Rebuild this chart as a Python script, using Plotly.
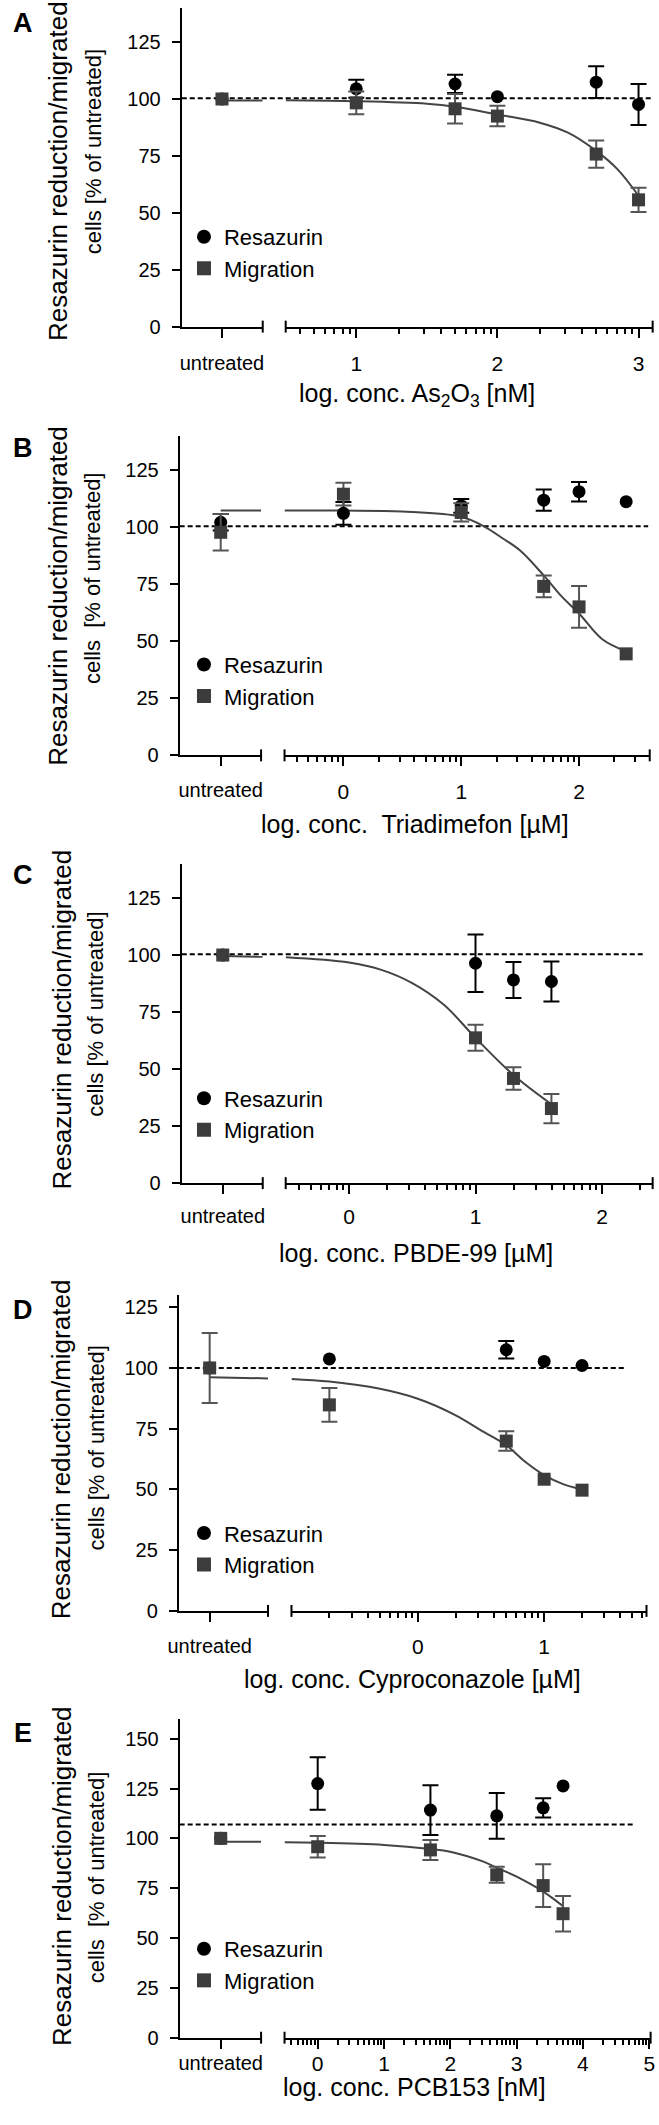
import math
import plotly.graph_objects as go

W, H = 659, 2125
FONT = "Liberation Sans, Arial, Helvetica, sans-serif"

# ---------------- data ----------------
panel_letters = ["A", "B", "C", "D", "E"]
x_titles = ["log. conc. As<sub>2</sub>O<sub>3</sub> [nM]",
            "log. conc.\u00a0 Triadimefon [µM]",
            "log. conc. PBDE-99 [µM]",
            "log. conc. Cyproconazole [µM]",
            "log. conc. PCB153 [nM]"]
y_title_line1 = "Resazurin reduction/migrated"
y_title_line2 = ["cells [% of untreated]", "cells\u00a0 [% of untreated]",
                 "cells [% of untreated]", "cells [% of untreated]",
                 "cells\u00a0 [% of untreated]"]
untreated_label = "untreated"
series_names = ["Resazurin", "Migration"]
y_ticks = [[0, 25, 50, 75, 100, 125]] * 4 + [[0, 25, 50, 75, 100, 125, 150]]
y_max = [140, 140, 140, 130, 160]
x_log_range = [[0.5, 3.1], [-0.5, 2.6], [-0.5, 2.4], [-1.0, 1.81], [-0.5, 5.02]]
reference_line = [100.3, 100.4, 100.3, 100.0, 107.0]

# untreated controls
res_untreated = [100, 102.2, 100, 100, 100]
res_untreated_err = [None, 3.6, None, None, None]
mig_untreated = [100, 97.8, 100, 100, 100]
mig_untreated_err = [None, 8.0, None, 14.4, None]

# A: As2O3
A_conc = [1, 1.7, 2, 2.7, 3]
A_res = [104.5, 106.6, 101.0, 107.4, 97.6]
A_res_err = [4.0, 4.0, None, 7.0, 9.0]
A_mig = [98.3, 95.7, 92.5, 75.8, 55.7]
A_mig_err = [5.0, 6.5, 4.5, 6.0, 5.3]
A_fit_left = [99.3, 99.3]
A_fit_x = [0.5, 1.0, 1.5, 1.7, 2.0, 2.3, 2.5, 2.7, 2.85, 3.0]
A_fit_y = [99.4, 99.0, 97.9, 96.6, 93.2, 89.6, 85.2, 77.2, 69.2, 57.5]

# B: Triadimefon
B_conc = [0, 1, 1.7, 2, 2.4]
B_res = [106.1, 109.4, 111.9, 115.6, 111.2]
B_res_err = [5.0, 3.0, 4.7, 4.3, None]
B_mig = [114.5, 106.5, 74.1, 65.1, 44.5]
B_mig_err = [5.0, 4.0, 4.8, 9.1, None]
B_fit_left = [107.3, 107.3]
B_fit_x = [-0.5, 0.0, 0.5, 1.0, 1.2, 1.35, 1.5, 1.7, 1.85, 2.0, 2.2, 2.4]
B_fit_y = [107.3, 107.3, 106.9, 104.6, 100.2, 95.2, 89.8, 78.9, 69.8, 62.2, 50.8, 45.6]

# C: PBDE-99
C_conc = [1, 1.3, 1.6]
C_res = [96.4, 89.1, 88.4]
C_res_err = [12.6, 7.9, 8.8]
C_mig = [63.7, 45.9, 32.7]
C_mig_err = [5.7, 4.9, 6.4]
C_fit_left = [99.6, 99.2]
C_fit_x = [-0.5, 0.0, 0.25, 0.5, 0.75, 1.0, 1.3, 1.6]
C_fit_y = [99.0, 96.7, 93.6, 87.7, 78.2, 63.7, 47.4, 34.6]

# D: Cyproconazole
D_conc = [-0.7, 0.7, 1.0, 1.3]
D_res = [103.7, 107.5, 102.7, 101.0]
D_res_err = [None, 3.6, None, None]
D_mig = [84.8, 69.9, 54.2, 49.7]
D_mig_err = [6.9, 4.0, None, None]
D_fit_left = [96.2, 95.7]
D_fit_x = [-1.0, -0.7, -0.3, 0.0, 0.3, 0.5, 0.7, 0.85, 1.0, 1.15, 1.3]
D_fit_y = [95.5, 94.4, 91.4, 87.3, 80.5, 74.3, 68.2, 61.4, 55.9, 52.2, 50.0]

# E: PCB153
E_conc = [0, 1.7, 2.7, 3.4, 3.7]
E_res = [127.5, 114.2, 111.3, 115.3, 126.3]
E_res_err = [13.2, 12.5, 11.5, 4.8, None]
E_mig = [95.8, 94.2, 81.7, 76.3, 62.2]
E_mig_err = [5.4, 5.0, 4.0, 10.7, 8.9]
E_fit_left = [98.3, 98.3]
E_fit_x = [-0.5, 0.0, 1.0, 1.7, 2.0, 2.5, 2.7, 3.0, 3.4, 3.7]
E_fit_y = [98.0, 97.8, 96.7, 94.7, 93.3, 88.3, 85.3, 80.8, 73.3, 66.0]

panels = [
    (A_conc, A_res, A_res_err, A_mig, A_mig_err, A_fit_left, A_fit_x, A_fit_y),
    (B_conc, B_res, B_res_err, B_mig, B_mig_err, B_fit_left, B_fit_x, B_fit_y),
    (C_conc, C_res, C_res_err, C_mig, C_mig_err, C_fit_left, C_fit_x, C_fit_y),
    (D_conc, D_res, D_res_err, D_mig, D_mig_err, D_fit_left, D_fit_x, D_fit_y),
    (E_conc, E_res, E_res_err, E_mig, E_mig_err, E_fit_left, E_fit_x, E_fit_y),
]

# ---------------- layout geometry (pixels) ----------------
geom = [
    dict(yx=174.7, lend=257.6, ux=215.9, rs=281.1, re=656.6, y0=328.3, yt=8.0,
         dash_end=656, letter_y=23, yt1=(48, 172), yt2=(84, 153), xt=(415, 397),
         xstand=8, leg_y=237),
    dict(yx=172.6, lend=255.9, ux=214.6, rs=279.9, re=653.6, y0=759.3, yt=438.3,
         dash_end=652, letter_y=450, yt1=(48, 599), yt2=(84, 581), xt=(413, 828),
         xstand=7, leg_y=667),
    dict(yx=174.7, lend=257.6, ux=216.7, rs=281.1, re=656.6, y0=1189.3, yt=868.3,
         dash_end=648, letter_y=880, yt1=(52, 1025), yt2=(87, 1020), xt=(414, 1260),
         xstand=5, leg_y=1103),
    dict(yx=171.7, lend=263.0, ux=203.3, rs=287.0, re=650.3, y0=1619.3, yt=1301.8,
         dash_end=629, letter_y=1317, yt1=(52, 1457), yt2=(87, 1456), xt=(411, 1688),
         xstand=7, leg_y=1540),
    dict(yx=172.6, lend=255.9, ux=214.6, rs=279.9, re=654.5, y0=2048.3, yt=1727.7,
         dash_end=638, letter_y=1742, yt1=(52, 1886), yt2=(87, 1887), xt=(413, 2098),
         xstand=-3, leg_y=1958),
]

RES_COLOR = "#000000"
MIG_COLOR = "#3c3c3c"
MIG_ERR = "#555555"
FIT_COLOR = "#444444"


def px(x):
    return x / W


def py(y):
    return 1 - y / H


fig = go.Figure()
layout = dict(
    width=W, height=H, margin=dict(l=0, r=0, t=0, b=0),
    paper_bgcolor="white", plot_bgcolor="rgba(0,0,0,0)",
    font=dict(family=FONT, color="black", size=20),
    showlegend=True, shapes=[], annotations=[],
)


def add_points(xs, ys, errs, name, xa, ya, symbol, color, ecolor):
    with_e = [i for i, e in enumerate(errs) if e is not None]
    without = [i for i, e in enumerate(errs) if e is None]
    if with_e:
        fig.add_trace(go.Scatter(
            x=[xs[i] for i in with_e], y=[ys[i] for i in with_e], mode="markers",
            marker=dict(symbol=symbol, size=13, color=color),
            error_y=dict(type="data", array=[errs[i] for i in with_e], visible=True,
                         color=ecolor, thickness=2, width=8),
            xaxis=xa, yaxis=ya, showlegend=False, name=name, cliponaxis=False))
    if without:
        fig.add_trace(go.Scatter(
            x=[xs[i] for i in without], y=[ys[i] for i in without], mode="markers",
            marker=dict(symbol=symbol, size=13, color=color),
            xaxis=xa, yaxis=ya, showlegend=False, name=name, cliponaxis=False))


for i, (conc, res, res_err, mig, mig_err, fit_left, fit_x, fit_y) in enumerate(panels):
    g = geom[i]
    yid = i + 1
    xl = 2 * i + 1
    xr = 2 * i + 2
    ya = "y" if yid == 1 else f"y{yid}"
    xla = "x" if xl == 1 else f"x{xl}"
    xra = f"x{xr}"
    f = (g["ux"] - g["yx"]) / (g["lend"] - g["yx"])
    left_range = [-f, 1 - f]

    # fitted curve (left part in the untreated segment + main part)
    fig.add_trace(go.Scatter(x=[0, left_range[1]], y=fit_left, mode="lines",
                             line=dict(color=FIT_COLOR, width=2),
                             xaxis=xla, yaxis=ya, showlegend=False, hoverinfo="skip"))
    fig.add_trace(go.Scatter(x=fit_x, y=fit_y, mode="lines",
                             line=dict(color=FIT_COLOR, width=2, shape="spline", smoothing=1.0),
                             xaxis=xra, yaxis=ya, showlegend=False, hoverinfo="skip"))

    # resazurin
    add_points([0], [res_untreated[i]], [res_untreated_err[i]], "Resazurin", xla, ya,
               "circle", RES_COLOR, RES_COLOR)
    add_points(conc, res, res_err, "Resazurin", xra, ya, "circle", RES_COLOR, RES_COLOR)
    # migration
    add_points([0], [mig_untreated[i]], [mig_untreated_err[i]], "Migration", xla, ya,
               "square", MIG_COLOR, MIG_ERR)
    add_points(conc, mig, mig_err, "Migration", xra, ya, "square", MIG_COLOR, MIG_ERR)

    # legend entries
    lg = "legend" if i == 0 else f"legend{i + 1}"
    for name, sym, col in zip(series_names, ["circle", "square"], [RES_COLOR, MIG_COLOR]):
        fig.add_trace(go.Scatter(x=[None], y=[None], mode="markers", name=name,
                                 marker=dict(symbol=sym, size=14, color=col),
                                 xaxis=xra, yaxis=ya, legend=lg,
                                 legendgroup=f"{name}{i}", showlegend=True))
    layout[lg] = dict(x=px(177), y=py(g["leg_y"] - 20), xanchor="left", yanchor="top",
                      font=dict(size=22, family=FONT, color="black"),
                      bgcolor="rgba(0,0,0,0)", tracegroupgap=7, traceorder="normal")

    # axes
    yname = "yaxis" if yid == 1 else f"yaxis{yid}"
    layout[yname] = dict(
        domain=[py(g["y0"]), py(g["yt"])], range=[0, y_max[i]], anchor=xla,
        showline=True, linewidth=2, linecolor="black", ticks="outside", ticklen=8,
        tickwidth=2, tickcolor="black", tickvals=y_ticks[i],
        tickfont=dict(size=20), showgrid=False, zeroline=False, ticklabelstandoff=7)
    xlname = "xaxis" if xl == 1 else f"xaxis{xl}"
    layout[xlname] = dict(
        domain=[px(g["yx"]), px(g["lend"])], range=left_range, anchor=ya,
        showline=True, linewidth=2, linecolor="black", ticks="outside", ticklen=9,
        tickwidth=2, tickcolor="black", tickvals=[0], ticktext=[untreated_label],
        tickfont=dict(size=20), showgrid=False, zeroline=False,
        ticklabelstandoff=g["xstand"])
    lo, hi = x_log_range[i]
    majors = [n for n in range(int(lo) - 1, int(hi) + 2) if lo + 0.05 < n <= hi]
    minors = []
    for n in range(int(lo) - 2, int(hi) + 2):
        for k in range(2, 10):
            v = n + math.log10(k)
            if lo < v < hi:
                minors.append(v)
    layout[f"xaxis{xr}"] = dict(
        domain=[px(g["rs"]), px(g["re"])], range=[lo, hi], anchor=ya,
        showline=True, linewidth=2, linecolor="black", ticks="outside", ticklen=9,
        tickwidth=2, tickcolor="black", tickvals=majors, ticktext=[str(m) for m in majors],
        tickfont=dict(size=21), showgrid=False, zeroline=False,
        ticklabelstandoff=g["xstand"],
        minor=dict(tickmode="array", tickvals=minors, ticks="outside", ticklen=5,
                   tickwidth=1.5, tickcolor="black", showgrid=False))

    # axis break caps
    c = 6 / (g["y0"] - g["yt"])
    for ref, xv in [(xla, 1), (xra, 0), (xra, 1)]:
        layout["shapes"].append(dict(
            type="line", xref=f"{ref} domain", x0=xv, x1=xv,
            yref=f"{ya} domain", y0=-c, y1=c, line=dict(color="black", width=2)))
    # dashed reference line
    layout["shapes"].append(dict(
        type="line", xref="paper", x0=px(g["yx"]), x1=px(g["dash_end"]),
        yref=ya, y0=reference_line[i], y1=reference_line[i],
        line=dict(color="black", width=2, dash="5px,3px"), layer="below"))

    # texts
    ann = layout["annotations"]
    ann.append(dict(text=f"<b>{panel_letters[i]}</b>", x=px(12.5), y=py(g["letter_y"]),
                    xref="paper", yref="paper", showarrow=False, xanchor="center",
                    yanchor="middle", font=dict(size=27, family=FONT)))
    ann.append(dict(text=y_title_line1, x=px(g["yt1"][0]), y=py(g["yt1"][1]),
                    xref="paper", yref="paper", showarrow=False, textangle=-90,
                    xanchor="center", yanchor="middle", font=dict(size=26, family=FONT)))
    ann.append(dict(text=y_title_line2[i], x=px(g["yt2"][0]), y=py(g["yt2"][1]),
                    xref="paper", yref="paper", showarrow=False, textangle=-90,
                    xanchor="center", yanchor="middle", font=dict(size=22, family=FONT)))
    ann.append(dict(text=x_titles[i], x=px(g["xt"][0]), y=py(g["xt"][1]),
                    xref="paper", yref="paper", showarrow=False,
                    xanchor="center", yanchor="middle", font=dict(size=25, family=FONT)))

fig.update_layout(**layout)
fig.write_html("out.html", config={"displayModeBar": False},
               post_script="document.body.style.margin='0';document.body.style.overflow='hidden';")
